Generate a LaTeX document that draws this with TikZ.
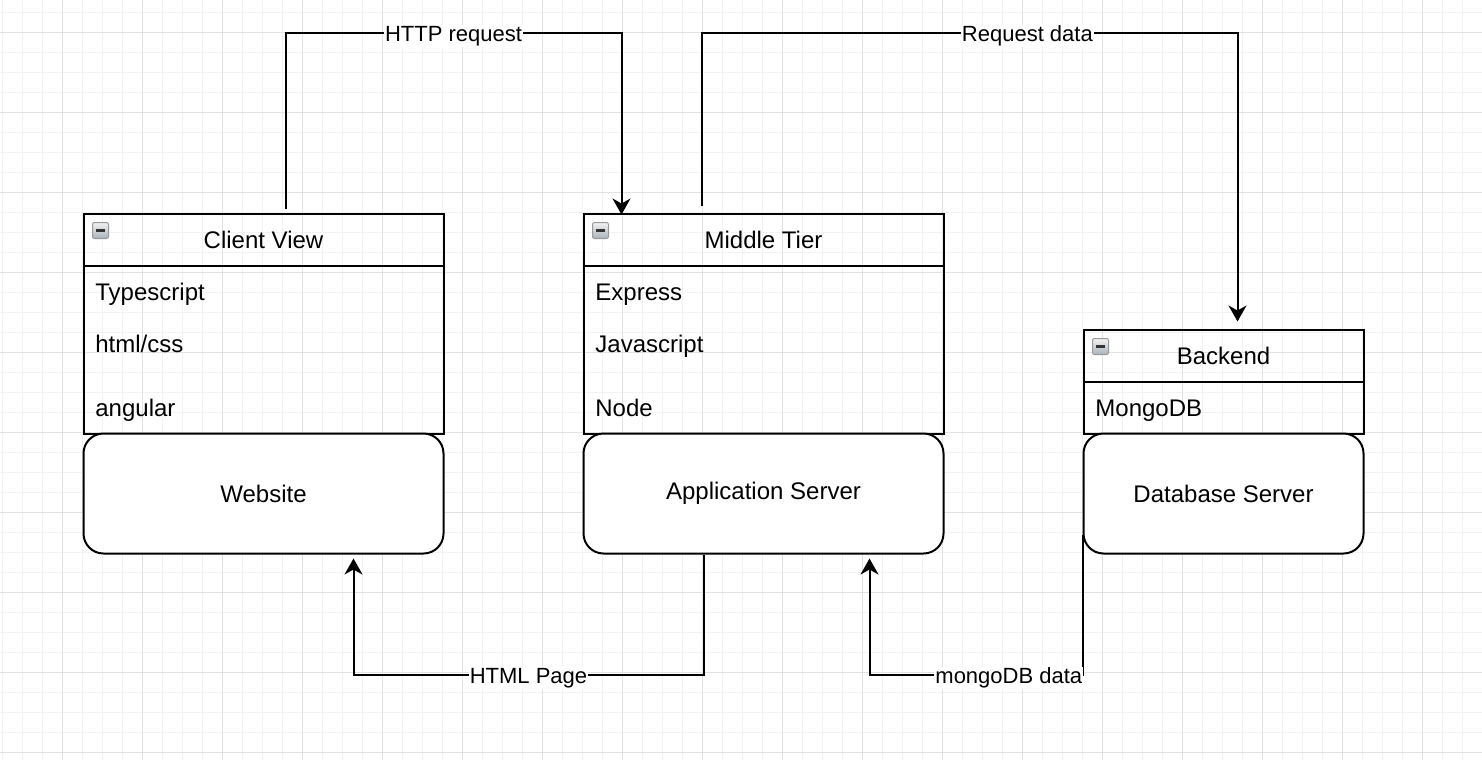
\documentclass[tikz,border=0pt]{standalone}
\usepackage{fontspec}
\setmainfont{Liberation Sans}
\usetikzlibrary{arrows.meta}
\definecolor{gridminor}{HTML}{F2F2F2}
\definecolor{gridmajor}{HTML}{E2E2E2}
\definecolor{iconlow}{HTML}{A9B2BC}
\begin{document}
\begin{tikzpicture}[x=0.5pt,y=-0.5pt,
		box/.style={draw,line width=1pt,rectangle,anchor=north west,inner sep=0pt,minimum width=180pt},
		srv/.style={box,rounded corners=10pt,fill=white,minimum height=60pt,font=\fontsize{12}{14}\selectfont},
		title/.style={inner sep=0pt,font=\fontsize{12}{14}\selectfont},
		item/.style={anchor=base west,inner sep=0pt,font=\fontsize{12}{14}\selectfont},
		conn/.style={line width=1pt},
		arr/.style={conn,-{Stealth[length=8pt,width=9pt,inset=2.5pt]}},
		lbl/.style={fill=white,inner sep=0.6pt,yshift=-1.75pt,font=\fontsize{11}{13}\selectfont}]
	\useasboundingbox (0,0) rectangle (1482,760);
	% grid
	\foreach \x in {2.5,22.5,...,1482}
		\draw[gridminor,line width=0.6pt] (\x,0) -- (\x,760);
	\foreach \y in {12.5,32.5,...,760}
		\draw[gridminor,line width=0.6pt] (0,\y) -- (1482,\y);
	\foreach \x in {62.5,142.5,...,1482}
		\draw[gridmajor,line width=0.6pt] (\x,0) -- (\x,760);
	\foreach \y in {32.5,112.5,...,760}
		\draw[gridmajor,line width=0.6pt] (0,\y) -- (1482,\y);
	% client view
	\node[box,minimum height=26pt] (cvh) at (82.5,212.5) {};
	\node[title] (cvt) at (cvh.center) {Client View};
	\node[box,minimum height=84pt] (cvl) at (82.5,264.5) {};
	\node[item] (cv1) at (95,300) {Typescript};
	\node[item] (cv2) at (95,352) {html/css};
	\node[item] (cv3) at (95,416) {angular};
	\node[srv] (web) at (82.5,432.5) {Website};
	% middle tier
	\node[box,minimum height=26pt] (mth) at (582.5,212.5) {};
	\node[title] (mtt) at (mth.center) {Middle Tier};
	\node[box,minimum height=84pt] (mtl) at (582.5,264.5) {};
	\node[item] (mt1) at (595,300) {Express};
	\node[item] (mt2) at (595,352) {Javascript};
	\node[item] (mt3) at (595,416) {Node};
	\node[srv] (app) at (582.5,432.5) {Application Server};
	% backend
	\node[box,minimum width=140pt,minimum height=26pt] (beh) at (1082.5,328.5) {};
	\node[title] (bet) at (beh.center) {Backend};
	\node[box,minimum width=140pt,minimum height=26pt] (bel) at (1082.5,380.5) {};
	\node[item] (be1) at (1095,416) {MongoDB};
	\node[srv,minimum width=140pt] (dbs) at (1082.5,432.5) {Database Server};
	% collapse icons
	\foreach \h in {cvh,mth,beh}{
		\begin{scope}[shift={(\h.north west)}]
			\draw[gray!80,line width=0.5pt,top color=gray!10,bottom color=iconlow,rounded corners=1pt] (10,10) rectangle (26,26);
			\draw[black!80,line width=1.5pt] (13.5,18) -- (22.5,18);
		\end{scope}
	}
	% requests
	\draw[arr] ([xshift=11pt,yshift=2pt]cvh.north) -- ++(0,-176) -| node[lbl,pos=0.25] (l1) {HTTP request} ([xshift=-71pt,yshift=-1pt]mth.north);
	\draw[arr] ([xshift=-31pt,yshift=3.5pt]mth.north) -- ++(0,-173) -| node[lbl,pos=0.304] (l2) {Request data} ([xshift=7pt,yshift=3.5pt]beh.north);
	% responses
	\draw[arr] ([xshift=-30pt]app.south) -- ++(0,120) -| node[lbl,pos=0.25] (l3) {HTML Page} ([xshift=45pt,yshift=-2pt]web.south);
	\draw[arr] ([yshift=10pt]dbs.south west) -- ++(0,140) -| node[lbl,pos=0.173] (l4) {mongoDB data} ([xshift=53pt,yshift=-2pt]app.south);
\end{tikzpicture}
\end{document}
